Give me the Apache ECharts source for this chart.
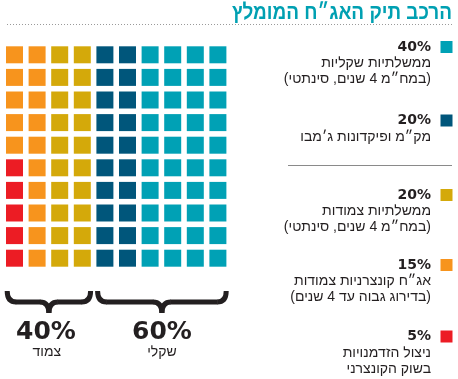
<!DOCTYPE html>
<html><head><meta charset="utf-8">
<script src="https://cdn.jsdelivr.net/npm/echarts@6/dist/echarts.min.js"></script>
<style>html,body{margin:0;padding:0;background:#fff}#c{width:458px;height:379px;direction:rtl}</style>
</head><body><div id="c"></div>
<script>
const titleText = 'הרכב תיק האג״ח המומלץ';
const categories = [
  'ממשלתיות שקליות\n(במח״מ 4 שנים, סינתטי)',
  'מק״מ ופיקדונות ג׳מבו',
  'ממשלתיות צמודות\n(במח״מ 4 שנים, סינתטי)',
  'אג״ח קונצרניות צמודות\n(בדירוג גבוה עד 4 שנים)',
  'ניצול הזדמנויות\nבשוק הקונצרני'
];
const values = [40, 20, 20, 15, 5];
const colors = ['#00a1b5', '#00567b', '#d4a90a', '#f7941d', '#ec1c24'];
const groupNames = ['צמוד', 'שקלי'];
const groupValues = [40, 60];

const FONT = '"Liberation Sans", "DejaVu Sans", sans-serif';
const NUMFONT = '"DejaVu Sans", "Liberation Sans", sans-serif';
const cols = 10, rows = 10;

let idx = 0;
const series = categories.map((c, k) => {
  const data = [];
  for (let j = 0; j < values[k]; j++) {
    const i = idx++;
    data.push([cols - 1 - Math.floor(i / rows), i % rows]);
  }
  return {
    type: 'scatter', name: c, symbol: 'rect', symbolSize: 17,
    itemStyle: { color: colors[k], opacity: 1 }, data, silent: true
  };
});

const chart = echarts.init(document.getElementById('c'), null, { renderer: 'canvas' });
chart.setOption({
  animation: false,
  grid: { left: 3.2, top: 43.5, width: 226, height: 226 },
  xAxis: { type: 'value', min: -0.5, max: cols - 0.5, show: false },
  yAxis: { type: 'value', min: -0.5, max: rows - 0.5, inverse: true, show: false },
  series
});

const INK = '#231f20';
const legendY = [47, 120.5, 195, 265, 336.5];
const g = [];
g.push({ type: 'text', x: 452, y: 12.5, scaleX: 0.86, style: { text: titleText, font: 'bold 22px ' + FONT, fill: '#00a0b2', align: 'right', verticalAlign: 'middle' } });
g.push({ type: 'line', shape: { x1: 7, y1: 24.5, x2: 452, y2: 24.5 }, style: { stroke: '#9a9a9a', lineWidth: 1, lineDash: [1, 2] } });
g.push({ type: 'line', shape: { x1: 288, y1: 165.5, x2: 452, y2: 165.5 }, style: { stroke: '#8a8a8a', lineWidth: 1 } });
categories.forEach((c, k) => {
  const cy = legendY[k];
  g.push({ type: 'rect', shape: { x: 440.5, y: cy - 6, width: 12, height: 12 }, style: { fill: colors[k] } });
  g.push({ type: 'text', x: 431, y: cy, style: { text: values[k] + '%', font: 'bold 14px ' + NUMFONT, fill: INK, align: 'right', verticalAlign: 'middle' } });
  g.push({ type: 'text', x: 431, y: cy + 8.5, style: { text: c, font: '14px ' + FONT, fill: INK, align: 'right', verticalAlign: 'top', lineHeight: 16 } });
});

let start = -0.5;
groupValues.forEach((v, k) => {
  const end = start + v / rows;
  const p0 = chart.convertToPixel({ gridIndex: 0 }, [start, 0])[0] + 4;
  const p1 = chart.convertToPixel({ gridIndex: 0 }, [end, 0])[0] - 3;
  const xc = (p0 + p1) / 2, r = 9;
  const top = 291, mid = 302, tip = 313;
  const st = { stroke: INK, lineWidth: 5, fill: null, lineCap: 'butt' };
  g.push({ type: 'bezierCurve', shape: { x1: p0, y1: top, cpx1: p0, cpy1: mid, x2: p0 + r, y2: mid }, style: st });
  g.push({ type: 'line', shape: { x1: p0 + r - 0.5, y1: mid, x2: xc - r + 0.5, y2: mid }, style: st });
  g.push({ type: 'bezierCurve', shape: { x1: xc - r, y1: mid, cpx1: xc, cpy1: mid, x2: xc, y2: tip }, style: st });
  g.push({ type: 'bezierCurve', shape: { x1: xc, y1: tip, cpx1: xc, cpy1: mid, x2: xc + r, y2: mid }, style: st });
  g.push({ type: 'line', shape: { x1: xc + r - 0.5, y1: mid, x2: p1 - r + 0.5, y2: mid }, style: st });
  g.push({ type: 'bezierCurve', shape: { x1: p1 - r, y1: mid, cpx1: p1, cpy1: mid, x2: p1, y2: top }, style: st });
  g.push({ type: 'text', x: xc - (k === 0 ? 3 : 0), y: 332, style: { text: v + '%', font: 'bold 25px ' + NUMFONT, fill: INK, align: 'center', verticalAlign: 'middle' } });
  g.push({ type: 'text', x: xc - (k === 0 ? 2 : 0), y: 352, style: { text: groupNames[k], font: '14px ' + FONT, fill: INK, align: 'center', verticalAlign: 'middle' } });
  start = end;
});
chart.setOption({ graphic: g });
</script></body></html>
